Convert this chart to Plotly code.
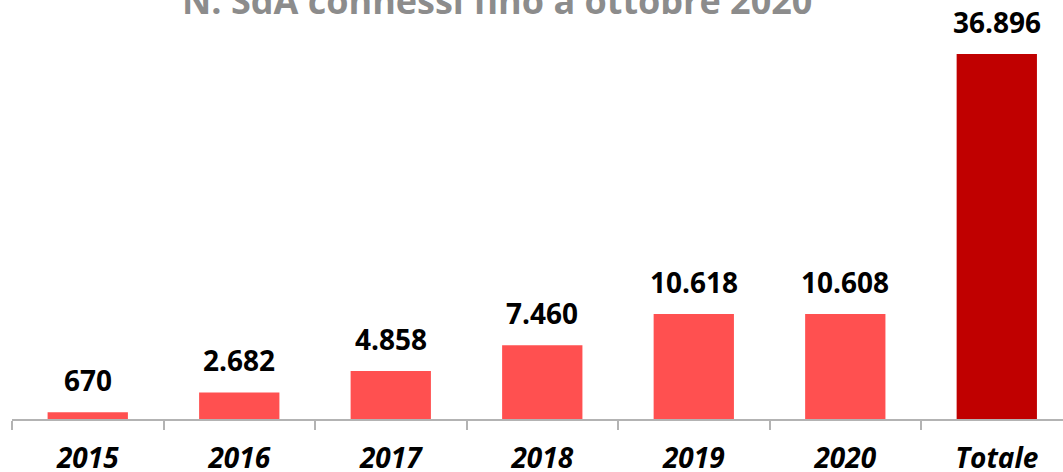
import plotly.graph_objects as go

categories = ['2015', '2016', '2017', '2018', '2019', '2020', 'Totale']
values = [670, 2682, 4858, 7460, 10618, 10608, 36896]
bar_colors = ['#FF5050'] * 6 + ['#C00000']

fig = go.Figure()
fig.add_trace(go.Bar(
    x=categories,
    y=values,
    marker=dict(color=bar_colors, line=dict(width=0)),
    width=0.53,
    hoverinfo='skip',
))

# data labels above each bar (x as category index, since the labels look numeric)
for i, val in enumerate(values):
    fig.add_annotation(
        x=i, y=val, text='{:,}'.format(val).replace(',', '.'),
        showarrow=False, yanchor='bottom', yshift=11,
        font=dict(family='Open Sans', size=28, color='#000000', weight='bold'),
    )

# title, partly above the top edge as in the original
fig.add_annotation(
    text='<b>N. SdA connessi fino a ottobre 2020</b>',
    xref='paper', yref='paper', x=(497 - 12) / 1051, y=1,
    xanchor='center', yanchor='middle', yshift=0, showarrow=False,
    font=dict(family='Open Sans', size=36, color='#8C8C8C'),
)

fig.update_layout(
    width=1063,
    height=472,
    margin=dict(l=12, r=0, t=0, b=53),
    paper_bgcolor='white',
    plot_bgcolor='white',
    showlegend=False,
    xaxis=dict(
        type='category',
        range=[-0.5, 6.437],
        automargin=False,
        showgrid=False,
        showline=True,
        linecolor='#B3B3B3',
        linewidth=2,
        ticks='outside',
        tickson='boundaries',
        ticklen=9,
        tickwidth=2,
        tickcolor='#B3B3B3',
        tickfont=dict(family='Open Sans', size=28, color='#000000', weight='bold', style='italic'),
        ticklabelstandoff=13,
    ),
    yaxis=dict(
        range=[0, 36896 * 419 / 365],
        visible=False,
        automargin=False,
        showgrid=False,
        zeroline=False,
    ),
)

fig.write_html('out.html', config={'displayModeBar': False},
               post_script="document.body.style.margin='0';")
